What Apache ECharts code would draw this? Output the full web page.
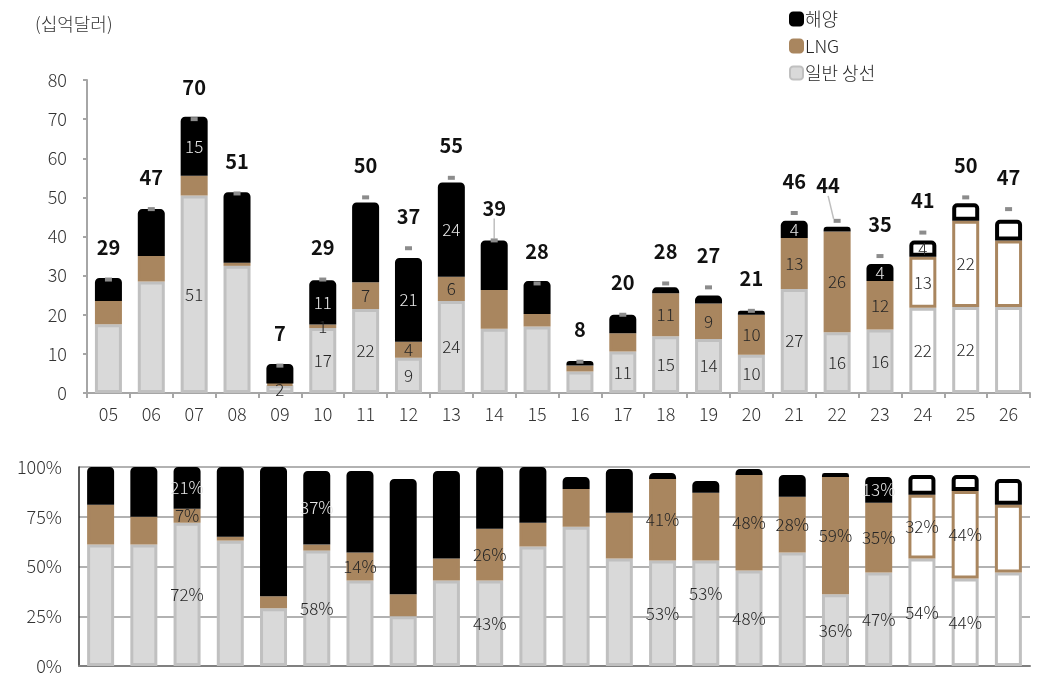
<!DOCTYPE html>
<html>
<head>
<meta charset="utf-8">
<script src="https://cdn.jsdelivr.net/npm/echarts@6/dist/echarts.min.js"></script>
<style>
  html, body { margin: 0; padding: 0; background: #fff; }
  #main { width: 1041px; height: 675px; }
</style>
</head>
<body>
<div id="main"></div>
<script>
// 연도 (20xx)
var years = ['05','06','07','08','09','10','11','12','13','14','15','16','17','18','19','20','21','22','23','24','25','26'];
var forecast = ['24','25','26'];

// 수주액 (십억달러)
var general  = [17.6, 28.5, 50.5, 32.5, 2, 16.6, 21.5, 9, 23.5, 16.4, 17, 5.5, 10.6, 14.5, 13.8, 9.8, 26.6, 15.5, 16.2, 21.8, 22, 22];
var lng      = [5.9, 6.5, 5, 0.8, 0.4, 0.9, 6.8, 4.1, 6.2, 9.9, 3.2, 1.5, 4.7, 11, 9.1, 10.2, 13, 25.8, 12.4, 13, 22, 17];
var offshore = [5.9, 12, 15.1, 18, 5, 11.3, 20.4, 21.4, 24.1, 12.7, 8.4, 1.2, 4.7, 1.5, 2, 1, 4.4, 1.2, 4.4, 4.2, 4.5, 5.3];
var totals   = [29, 47, 70, 51, 7, 29, 50, 37, 55, 39, 28, 8, 20, 28, 27, 21, 46, 44, 35, 41, 50, 47];

// 비중 (%)
var genPct = [61, 61, 72, 63, 29, 58, 43, 25, 43, 43, 60, 70, 54, 53, 53, 48, 57, 36, 47, 54, 44, 47];
var lngPct = [20, 14, 7, 2, 6, 3, 14, 11, 11, 26, 12, 19, 23, 41, 34, 48, 28, 59, 35, 32, 44, 34];
var offPct = [19, 25, 21, 35, 65, 37, 41, 58, 44, 31, 28, 6, 22, 3, 6, 3, 11, 2, 13, 10, 8, 13];

// 라벨 표시 연도
var topGenLab = ['07','09','10','11','12','13','17','18','19','20','21','22','23','24','25'];
var topLngLab = ['10','11','12','13','18','19','20','21','22','23','24','25'];
var topOffLab = ['07','10','12','13','21','23','24'];
var botGenLab = ['07','10','14','18','19','20','22','23','24','25'];
var botLngLab = ['07','11','14','18','20','21','22','23','24','25'];
var botOffLab = ['07','10','23'];
var leaderYears = ['14','22'];

var FONT = '"Noto Sans CJK KR", "Noto Sans", sans-serif';
var BROWN = '#a9865f';

var styles = {
  gen: { color: '#d9d9d9', borderColor: '#c0c0c0', borderWidth: 3 },
  lng: { color: BROWN, borderColor: BROWN, borderWidth: 3 },
  off: { color: '#000', borderColor: '#000', borderWidth: 3, borderRadius: [3, 3, 0, 0] }
};

function makeData(vals, labYears, kind) {
  return vals.map(function (v, i) {
    var y = years[i];
    var isF = forecast.indexOf(y) >= 0;
    var item = { value: v, label: { show: labYears.indexOf(y) >= 0 } };
    if (isF) {
      item.itemStyle = { color: '#fff' };
      if (kind === 'off') item.itemStyle.borderWidth = 4;
    }
    if (kind === 'off') item.label.color = isF ? '#262626' : '#e8e8e8';
    return item;
  });
}

function barSeries(name, kind, vals, labYears, axis, pct) {
  var data = makeData(vals, labYears, kind);
  if (pct && kind === 'gen') data[years.indexOf('19')].label.offset = [0, -20];
  return {
    name: name,
    type: 'bar',
    stack: axis === 0 ? 'top' : 'bottom',
    xAxisIndex: axis,
    yAxisIndex: axis,
    barWidth: 27,
    itemStyle: styles[kind],
    label: {
      position: 'inside',
      fontFamily: FONT,
      fontSize: 17,
      fontWeight: 300,
      color: '#262626',
      formatter: function (p) { return Math.round(p.value) + (pct ? '%' : ''); }
    },
    data: data
  };
}

var totalData = totals.map(function (v, i) {
  return { value: v, labelLine: { show: leaderYears.indexOf(years[i]) >= 0 } };
});

var chart = echarts.init(document.getElementById('main'));

var option = {
  animation: false,
  textStyle: { fontFamily: FONT },
  graphic: [{
    type: 'text', left: 35, top: 15,
    style: { text: '(십억달러)', fontSize: 18, fontWeight: 300, fill: '#333', fontFamily: FONT }
  }],
  legend: {
    data: ['해양', 'LNG', '일반 상선'],
    orient: 'vertical',
    left: 784,
    top: 5,
    itemWidth: 13,
    itemHeight: 13,
    itemGap: 9,
    textStyle: { fontSize: 18, fontWeight: 300, color: '#262626', padding: [0, 0, 0, -3] }
  },
  grid: [
    { left: 87, right: 11, top: 80, height: 313 },
    { left: 79, right: 11, top: 467, height: 202 }
  ],
  xAxis: [
    {
      type: 'category', gridIndex: 0, data: years,
      axisLine: { lineStyle: { color: '#a6a6a6', width: 2 } },
      axisTick: { show: true, length: 5, lineStyle: { color: '#a6a6a6', width: 2 } },
      axisLabel: { fontSize: 18, fontWeight: 300, color: '#333', margin: 12 }
    },
    {
      type: 'category', gridIndex: 1, data: years,
      axisLine: { lineStyle: { color: '#808080', width: 2 } },
      axisTick: { show: false },
      axisLabel: { show: false }
    }
  ],
  yAxis: [
    {
      type: 'value', gridIndex: 0, min: 0, max: 80, interval: 10,
      axisLine: { show: true, lineStyle: { color: '#a6a6a6', width: 2 } },
      axisTick: { show: true, length: 4, lineStyle: { color: '#a6a6a6', width: 2 } },
      splitLine: { show: false },
      axisLabel: { fontSize: 18, fontWeight: 300, color: '#333', margin: 20 }
    },
    {
      type: 'value', gridIndex: 1, min: 0, max: 100, interval: 25,
      axisLine: { show: true, lineStyle: { color: '#262626', width: 1.5 } },
      axisTick: { show: false },
      splitLine: { lineStyle: { color: '#999', width: 1.5 } },
      axisLabel: { fontSize: 18, fontWeight: 300, color: '#333', margin: 17, formatter: '{value}%' }
    }
  ],
  series: [
    barSeries('일반 상선', 'gen', general, topGenLab, 0, false),
    barSeries('LNG', 'lng', lng, topLngLab, 0, false),
    barSeries('해양', 'off', offshore, topOffLab, 0, false),
    {
      name: '합계',
      type: 'line',
      xAxisIndex: 0,
      yAxisIndex: 0,
      symbol: 'rect',
      symbolSize: [7, 4],
      itemStyle: { color: '#8c8c8c' },
      lineStyle: { opacity: 0 },
      z: 5,
      label: {
        show: true, position: 'top', distance: 20,
        fontSize: 20, fontWeight: 'bold', color: '#111', fontFamily: FONT
      },
      labelLine: { show: false, lineStyle: { color: '#bfbfbf', width: 1.5 } },
      labelLayout: function (p) {
        if (p.dataIndex === 17) return { dx: -9, dy: -3 };
        return {};
      },
      data: totalData
    },
    barSeries('일반 상선', 'gen', genPct, botGenLab, 1, true),
    barSeries('LNG', 'lng', lngPct, botLngLab, 1, true),
    barSeries('해양', 'off', offPct, botOffLab, 1, true)
  ]
};

chart.setOption(option);
</script>
</body>
</html>
